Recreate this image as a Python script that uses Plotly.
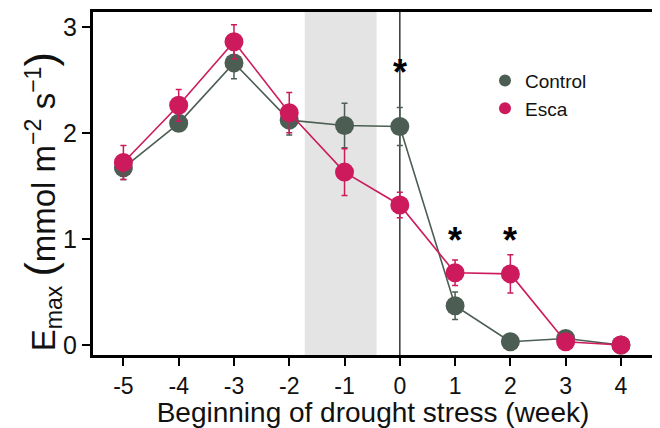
import plotly.graph_objects as go

weeks = [-5, -4, -3, -2, -1, 0, 1, 2, 3, 4]
control = [1.67, 2.09, 2.66, 2.12, 2.07, 2.06, 0.37, 0.03, 0.06, 0.0]
control_err = [0.11, 0.07, 0.15, 0.14, 0.21, 0.18, 0.13, 0.02, 0.02, 0.01]
esca = [1.72, 2.26, 2.86, 2.19, 1.63, 1.32, 0.68, 0.67, 0.03, 0.0]
esca_err = [0.16, 0.15, 0.16, 0.19, 0.22, 0.12, 0.12, 0.18, 0.02, 0.01]
sig_weeks = [0, 1, 2]
sig_y = [2.61, 1.02, 1.02]
shade_x = [-1.72, -0.42]

c_ctrl = "#4C5E53"
c_esca = "#CC1A5C"
font = "Liberation Sans, Arial, sans-serif"

fig = go.Figure()
for name, y, err, col in [("Control", control, control_err, c_ctrl), ("Esca", esca, esca_err, c_esca)]:
    fig.add_trace(go.Scatter(
        x=weeks, y=y, mode="lines+markers", name=name, showlegend=False,
        line=dict(color=col, width=1.6),
        marker=dict(color=col, size=19),
        error_y=dict(type="data", array=err, color=col, thickness=1.5, width=3),
    ))
for name, col in [("Control", c_ctrl), ("Esca", c_esca)]:
    fig.add_trace(go.Scatter(x=[None], y=[None], mode="markers", name=name,
                             marker=dict(color=col, size=21)))

fig.add_shape(type="rect", xref="x", yref="paper", x0=shade_x[0], x1=shade_x[1], y0=0, y1=1,
              fillcolor="#E4E4E4", line=dict(width=0), layer="below")
fig.add_shape(type="line", xref="x", yref="paper", x0=0, x1=0, y0=0, y1=1,
              line=dict(color="#3F4742", width=1.6), layer="below")

for xw, yv in zip(sig_weeks, sig_y):
    fig.add_annotation(x=xw, y=yv, text="<b>*</b>", showarrow=False,
                       font=dict(size=36, color="black", family=font), yshift=-4)

# y-axis title as rotated text so its position can be matched exactly
fig.add_annotation(
    xref="paper", yref="paper", x=0, y=0.445, xshift=-52, xanchor="center", yanchor="middle",
    textangle=-90, showarrow=False,
    text="E<sub>max</sub> <span style='font-size:43px'>(</span>mmol m<sup>−2</sup> s<sup>−1</sup><span style='font-size:43px'>)</span>",
    font=dict(size=33, color="#111", family=font),
)

# page body has an 8px margin, so the figure is 8px smaller and margins are offset
fig.update_layout(
    width=652, height=420,
    margin=dict(l=85, r=7, t=4, b=73),
    paper_bgcolor="white", plot_bgcolor="white",
    font=dict(family=font, color="#111"),
    legend=dict(x=0.70, y=0.855, xanchor="left", yanchor="top",
                font=dict(size=19, family=font), bgcolor="rgba(0,0,0,0)",
                itemsizing="constant", tracegroupgap=4),
    xaxis=dict(range=[-5.55, 4.58], tickvals=weeks, ticktext=[str(w) for w in weeks],
               automargin=False,
               showgrid=False, zeroline=False, showline=True, linecolor="black", linewidth=3,
               mirror=True, ticks="outside", ticklen=8, tickwidth=1.5, tickcolor="black",
               tickfont=dict(size=23, color="#111"),
               title=dict(text="Beginning of drought stress (week)", font=dict(size=28, color="#111"), standoff=1)),
    yaxis=dict(range=[-0.095, 3.14], tickvals=[0, 1, 2, 3],
               automargin=False,
               showgrid=False, zeroline=False, showline=True, linecolor="black", linewidth=3,
               mirror=True, ticks="outside", ticklen=8, tickwidth=1.5, tickcolor="black",
               tickfont=dict(size=25, color="#111")),
)

fig.write_html("out.html")
